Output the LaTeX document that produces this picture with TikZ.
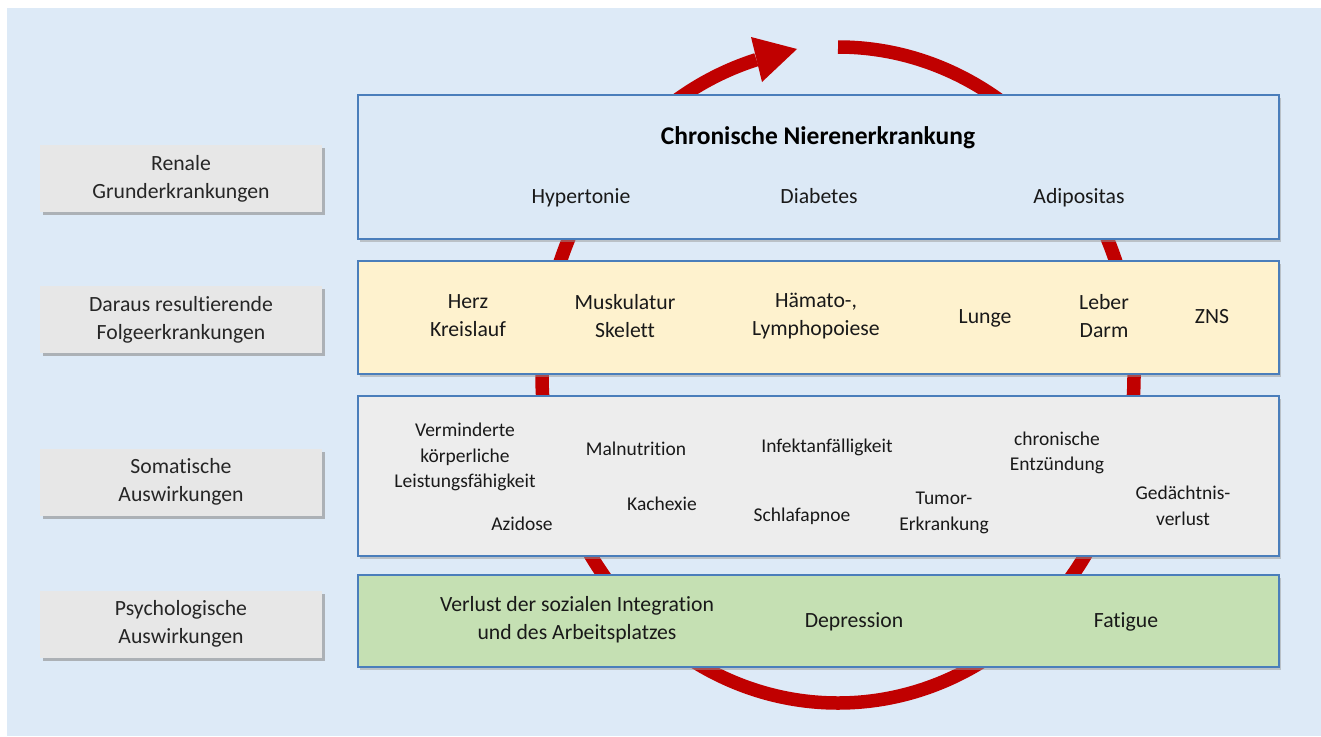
\documentclass[tikz,border=0pt]{standalone}
\usepackage{fontspec}
\setmainfont{Carlito}[Ligatures=NoCommon]
\usetikzlibrary{shadows}
\definecolor{bg}{HTML}{DDEAF7}
\definecolor{topfill}{HTML}{DCE9F6}
\definecolor{yellowfill}{HTML}{FEF2CE}
\definecolor{greyfill}{HTML}{EDEDED}
\definecolor{greenfill}{HTML}{C5E0B3}
\definecolor{sidefill}{HTML}{E7E7E7}
\definecolor{boxblue}{HTML}{4A7EBB}
\definecolor{ringred}{HTML}{C00000}
\newcommand{\regtxt}{\fontsize{21.7}{28}\selectfont}
\newcommand{\smalltxt}{\fontsize{19.5}{25.5}\selectfont}
\newcommand{\titletxt}{\fontsize{25.5}{30}\selectfont\bfseries}
\begin{document}
\begin{tikzpicture}[x=1pt,y=-1pt,
  mainbox/.style={draw=boxblue, line width=1.6pt, minimum width=921pt,
    drop shadow={shadow xshift=1.5pt, shadow yshift=-2.5pt, fill=black!40, opacity=0.5}},
  sidebox/.style={fill=sidefill, minimum width=282pt, minimum height=67pt, align=center, font=\regtxt,
    text=black!85,
    drop shadow={shadow xshift=2.5pt, shadow yshift=-3pt, fill=black!45, opacity=0.6}},
  txt/.style={align=center, font=\regtxt, text=black!90},
  stxt/.style={align=center, font=\smalltxt, text=black!90},
  oneline/.style={text height=14pt, text depth=4.5pt},
  sone/.style={text height=12.6pt, text depth=4pt},
  ring/.style={draw=ringred, line width=13.5pt, line cap=butt}
]
\useasboundingbox (0,0) rectangle (1321,736);
\fill[white] (0,0) rectangle (1321,736);
\fill[bg] (7,8) rectangle (1321,736);

% circular arrow (behind boxes)
\coordinate (ringstart) at (838,47);
\draw[ring] (ringstart) arc[start angle=90, end angle=-254, x radius=296pt, y radius=328pt];
\fill[ringred] (797,49) -- (751,37) -- (762,82) -- cycle;

% main boxes
\node[mainbox, fill=topfill, minimum height=144pt] (ckd) at (818.5,167) {};
\node[mainbox, fill=yellowfill, minimum height=113pt] (folge) at (818.5,317.5) {};
\node[mainbox, fill=greyfill, minimum height=160pt] (soma) at (818.5,476) {};
\node[mainbox, fill=greenfill, minimum height=92pt] (psy) at (818.5,621) {};

% side labels
\node[sidebox] (l1) at (181,178.5) {Renale\\Grunderkrankungen};
\node[sidebox] (l2) at (181,319.5) {Daraus resultierende\\Folgeerkrankungen};
\node[sidebox] (l3) at (181,482) {Somatische\\Auswirkungen};
\node[sidebox] (l4) at (181,624) {Psychologische\\Auswirkungen};

% top box texts
\node[align=center, font=\titletxt] (t0) at (818,137.5) {Chronische Nierenerkrankung};
\node[txt, oneline] (t1) at (581,198.5) {Hypertonie};
\node[txt, oneline] (t2) at (819,198.5) {Diabetes};
\node[txt, oneline] (t3) at (1079,198.5) {Adipositas};

% yellow box texts
\node[txt] (f1) at (468,316) {Herz\\Kreislauf};
\node[txt] (f2) at (625,316) {Muskulatur\\Skelett};
\node[txt] (f3) at (816,316) {Hämato-,\\Lymphopoiese};
\node[txt, oneline] (f4) at (985,319) {Lunge};
\node[txt] (f5) at (1104,316) {Leber\\Darm};
\node[txt, oneline] (f6) at (1212,319) {ZNS};

% grey box texts
\node[stxt] (s1) at (465,457) {Verminderte\\körperliche\\Leistungsfähigkeit};
\node[stxt, sone] (s2) at (522,526) {Azidose};
\node[stxt, sone] (s3) at (636,451) {Malnutrition};
\node[stxt, sone] (s4) at (662,506) {Kachexie};
\node[stxt, sone] (s5) at (827,448) {Infektanfälligkeit};
\node[stxt, sone] (s6) at (802,517) {Schlafapnoe};
\node[stxt] (s7) at (1057,453) {chronische\\Entzündung};
\node[stxt] (s8) at (944,513) {Tumor-\\Erkrankung};
\node[stxt] (s9) at (1183,506) {Gedächtnis-\\verlust};

% green box texts
\node[txt] (p1) at (577,620) {Verlust der sozialen Integration\\und des Arbeitsplatzes};
\node[txt, oneline] (p2) at (854,623) {Depression};
\node[txt, oneline] (p3) at (1126,623) {Fatigue};
\end{tikzpicture}
\end{document}
